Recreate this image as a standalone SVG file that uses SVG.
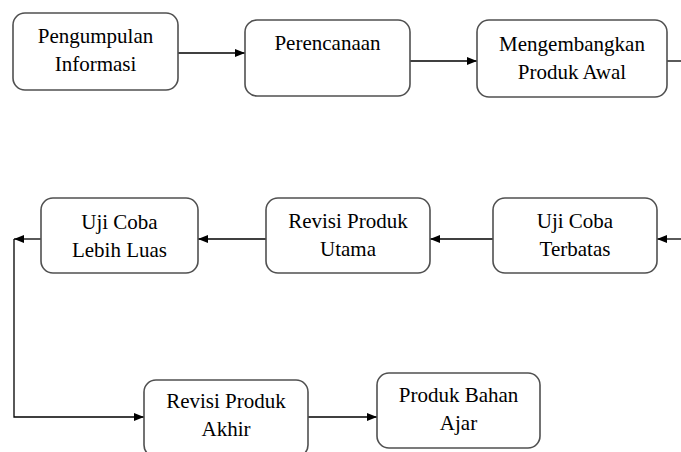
<svg xmlns="http://www.w3.org/2000/svg" width="681" height="452" viewBox="0 0 681 452">
<style>
.box{fill:#fff;stroke:#505050;stroke-width:1.6}
.t{font-family:"Liberation Serif","Times New Roman",serif;font-size:21px;fill:#000;text-anchor:middle}
.c{fill:none;stroke:#000;stroke-width:1.3}
</style>
<defs>
<marker id="ah" markerWidth="10" markerHeight="8" refX="10" refY="4" orient="auto" markerUnits="userSpaceOnUse">
<path d="M0,0 L10,4 L0,8 Z" fill="#000"/>
</marker>
</defs>
<rect width="681" height="452" fill="#fff"/>
<g id="connectors">
<path class="c" d="M178,53 H245" marker-end="url(#ah)"/>
<path class="c" d="M410,61 H477" marker-end="url(#ah)"/>
<path class="c" d="M667,61 H681"/>
<path class="c" d="M681,239 H657" marker-end="url(#ah)"/>
<path class="c" d="M493,239 H430" marker-end="url(#ah)"/>
<path class="c" d="M266,239 H198" marker-end="url(#ah)"/>
<path class="c" d="M41,239 H14" marker-end="url(#ah)"/>
<path class="c" d="M14,239 V417 H144" marker-end="url(#ah)"/>
<path class="c" d="M308,417 H377" marker-end="url(#ah)"/>
</g>
<g id="n1"><rect class="box" x="13" y="13" width="165" height="77" rx="12"/>
<text class="t" x="95.5" y="43">Pengumpulan</text><text class="t" x="95.5" y="71">Informasi</text></g>
<g id="n2"><rect class="box" x="245" y="20" width="165" height="76" rx="12"/>
<text class="t" x="327.5" y="50">Perencanaan</text></g>
<g id="n3"><rect class="box" x="477" y="20" width="190" height="77" rx="12"/>
<text class="t" x="572" y="51">Mengembangkan</text><text class="t" x="572" y="79">Produk Awal</text></g>
<g id="n4"><rect class="box" x="493" y="198" width="164" height="75" rx="12"/>
<text class="t" x="575" y="228">Uji Coba</text><text class="t" x="575" y="256">Terbatas</text></g>
<g id="n5"><rect class="box" x="266" y="198" width="164" height="75" rx="12"/>
<text class="t" x="348" y="228">Revisi Produk</text><text class="t" x="348" y="256">Utama</text></g>
<g id="n6"><rect class="box" x="41" y="198" width="157" height="75" rx="12"/>
<text class="t" x="119.5" y="229">Uji Coba</text><text class="t" x="119.5" y="257">Lebih Luas</text></g>
<g id="n7"><rect class="box" x="144" y="380" width="164" height="77" rx="12"/>
<text class="t" x="226" y="408">Revisi Produk</text><text class="t" x="226" y="436">Akhir</text></g>
<g id="n8"><rect class="box" x="377" y="373" width="163" height="75" rx="12"/>
<text class="t" x="458.5" y="402">Produk Bahan</text><text class="t" x="458.5" y="430">Ajar</text></g>
</svg>
